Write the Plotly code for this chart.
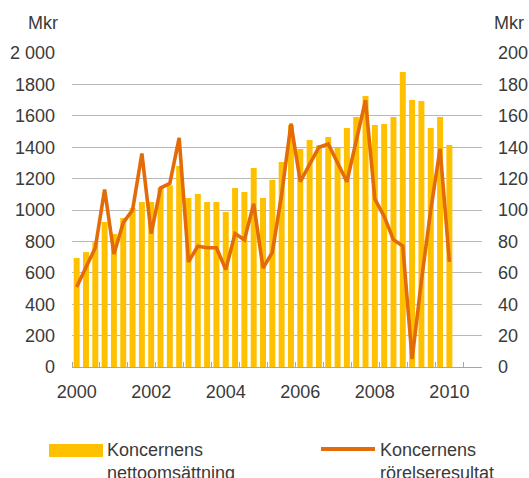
import plotly.graph_objects as go

# ---- data (quarterly, 2000 Q1 .. 2010 Q1) ----
quarter_index = list(range(41))
nettoomsattning = [694, 732, 794, 923, 847, 949, 1013, 1051, 1051, 1144, 1157, 1280, 1076, 1102,
                   1051, 1051, 987, 1140, 1115, 1267, 1076, 1191, 1306, 1541, 1388, 1446, 1412, 1465,
                   1395, 1522, 1592, 1726, 1541, 1548, 1592, 1879, 1701, 1694, 1522, 1592, 1414]
rorelseresultat = [51, 64, 76, 113, 72, 92, 100, 136, 85, 114, 117, 146, 67, 77,
                   76, 76, 62, 85, 81, 104, 63, 73, 110, 155, 118, 129, 140, 142,
                   130, 118, 144, 170, 107, 96, 81, 77, 5, 55, 100, 139, 67]
year_tick_pos = [0, 8, 16, 24, 32, 40]
year_tick_labels = ["2000", "2002", "2004", "2006", "2008", "2010"]
left_ticks = list(range(0, 2001, 200))
left_tick_labels = ["0", "200", "400", "600", "800", "1000", "1200", "1400", "1600", "1800", "2 000"]
right_ticks = list(range(0, 201, 20))
right_tick_labels = [str(v) for v in right_ticks]
legend_names = ["Koncernens<br>nettoomsättning", "Koncernens<br>rörelseresultat"]

BAR_COLOR = "#FFC000"
LINE_COLOR = "#E36C09"
TEXT_COLOR = "#3a3a3a"
GRID_COLOR = "#b8b8b8"
FONT = "Liberation Sans, Arial, sans-serif"

W, H = 529, 478
L, R, T, B = 72, 47, 53, 111
PW, PH = W - L - R, H - T - B


def px(x):
    return (x - L) / PW


def py(y):
    return (H - B - y) / PH


fig = go.Figure()
fig.add_trace(go.Bar(x=quarter_index, y=nettoomsattning, marker_color=BAR_COLOR,
                     marker_line_width=0, name="Koncernens nettoomsättning", yaxis="y"))
fig.add_trace(go.Scatter(x=quarter_index, y=rorelseresultat, mode="lines",
                         line=dict(color=LINE_COLOR, width=3.6), name="Koncernens rörelseresultat",
                         yaxis="y2"))

fig.update_layout(
    width=W, height=H,
    margin=dict(l=L, r=R, t=T, b=B, pad=0, autoexpand=False),
    paper_bgcolor="white", plot_bgcolor="white",
    showlegend=False,
    bargap=0.36,
    font=dict(family=FONT, size=18, color=TEXT_COLOR),
    xaxis=dict(range=[-0.5, 43.5], tickmode="array", tickvals=year_tick_pos, ticktext=year_tick_labels,
               ticks="", showgrid=False, zeroline=False, showline=True, linecolor="#a6a6a6", linewidth=1,
               ticklabelstandoff=8, automargin=False,
               minor=dict(tickmode="linear", tick0=-0.5, dtick=3, ticks="inside", ticklen=5,
                          tickcolor="#a6a6a6", tickwidth=1, showgrid=False)),
    yaxis=dict(range=[0, 2000], tickmode="array", tickvals=left_ticks, ticktext=left_tick_labels,
               showgrid=True, gridcolor=GRID_COLOR, gridwidth=1, zeroline=False, showline=False,
               ticks="", ticklabelstandoff=16, automargin=False),
    yaxis2=dict(range=[0, 200], overlaying="y", side="right", tickmode="array", tickvals=right_ticks,
                ticktext=right_tick_labels, showgrid=False, zeroline=False, showline=False, ticks="",
                ticklabelstandoff=15, automargin=False),
)

# axis unit titles
fig.add_annotation(text="Mkr", xref="paper", yref="paper", x=px(60), y=py(23), xanchor="right",
                   yanchor="middle", showarrow=False, font=dict(size=18, color=TEXT_COLOR))
fig.add_annotation(text="Mkr", xref="paper", yref="paper", x=px(492), y=py(23), xanchor="left",
                   yanchor="middle", showarrow=False, font=dict(size=18, color=TEXT_COLOR))

# custom legend
fig.add_shape(type="rect", xref="paper", yref="paper", x0=px(49), x1=px(103), y0=py(457), y1=py(444),
              fillcolor=BAR_COLOR, line_width=0)
fig.add_shape(type="line", xref="paper", yref="paper", x0=px(321), x1=px(375), y0=py(449), y1=py(449),
              line=dict(color=LINE_COLOR, width=4))
fig.add_annotation(text=legend_names[0], xref="paper", yref="paper", x=px(105), y=py(438),
                   xanchor="left", yanchor="top", align="left", showarrow=False,
                   font=dict(size=18, color=TEXT_COLOR))
fig.add_annotation(text=legend_names[1], xref="paper", yref="paper", x=px(378), y=py(438),
                   xanchor="left", yanchor="top", align="left", showarrow=False,
                   font=dict(size=18, color=TEXT_COLOR))

fig.write_html("out.html", config={"displayModeBar": False},
               post_script="document.body.style.margin='0';document.body.style.overflow='hidden';")
